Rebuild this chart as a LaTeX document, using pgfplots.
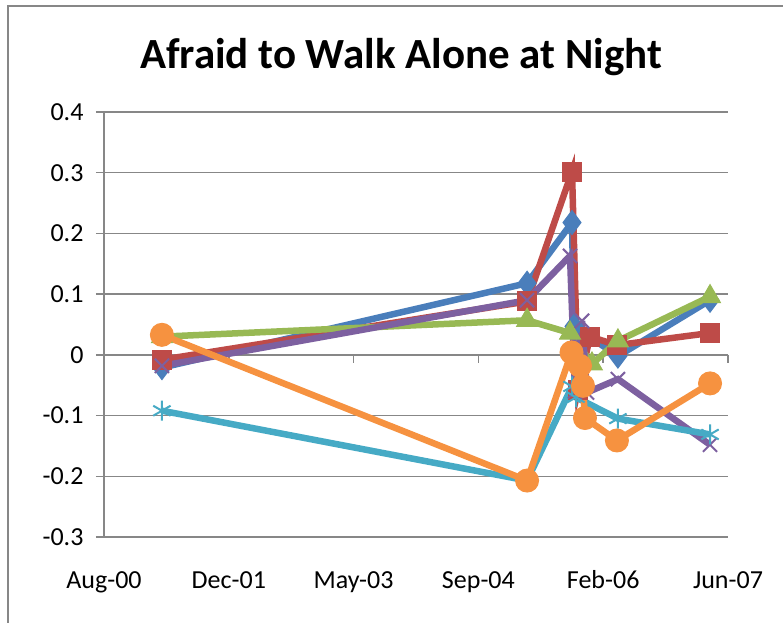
\documentclass[border=0pt]{standalone}
\usepackage{pgfplots}
\pgfplotsset{compat=1.18}
\usepackage{fontspec}
\setmainfont{Carlito}
\definecolor{sblue}{HTML}{4A7EBB}
\definecolor{sred}{HTML}{BE4B48}
\definecolor{sgreen}{HTML}{98B954}
\definecolor{spurple}{HTML}{7D60A0}
\definecolor{saqua}{HTML}{46AAC5}
\definecolor{sorange}{HTML}{F69240}
\definecolor{gridgray}{HTML}{878787}
\begin{document}
\begin{tikzpicture}
\useasboundingbox (0pt,0pt) rectangle (783pt,-622pt);
\draw[gridgray, line width=2pt] (8pt,-700pt) -- (8pt,-6pt) -- (800pt,-6pt);
\node[anchor=base, font=\fontsize{43}{50}\selectfont\bfseries] at (401pt,-68pt) {Afraid to Walk Alone at Night};
\begin{axis}[
  at={(104pt,-537pt)}, anchor=south west,
  scale only axis, width=624pt, height=425pt,
  xmin=0, xmax=2500, ymin=-0.3, ymax=0.4,
  axis x line=none,
  axis y line*=left,
  axis line style={gridgray, line width=1.5pt},
  ytick={-0.3,-0.2,-0.1,0,0.1,0.2,0.3,0.4},
  yticklabels={-0.3,-0.2,-0.1,0,0.1,0.2,0.3,0.4},
  ymajorgrids, grid style={gridgray, line width=1.5pt},
  tick align=outside, major tick length=8pt,
  tick style={gridgray, line width=1.5pt},
  yticklabel style={font=\fontsize{26}{30}\selectfont, xshift=-9pt},
  clip=false,
  every axis plot/.append style={line width=6.5pt},
]
\draw[gridgray, line width=1.5pt] (axis cs:0,0) -- (axis cs:2500,0);
\pgfplotsinvokeforeach{0,500,1000,1500,2000,2500}{
  \draw[gridgray, line width=1.5pt] (axis cs:#1,0) -- ++(0pt,-8pt);
}
\node[font=\fontsize{26}{30}\selectfont, anchor=base] at (axis cs:0,-0.3) [yshift=-51pt] {Aug-00};
\node[font=\fontsize{26}{30}\selectfont, anchor=base] at (axis cs:500,-0.3) [yshift=-51pt] {Dec-01};
\node[font=\fontsize{26}{30}\selectfont, anchor=base] at (axis cs:1000,-0.3) [yshift=-51pt] {May-03};
\node[font=\fontsize{26}{30}\selectfont, anchor=base] at (axis cs:1500,-0.3) [yshift=-51pt] {Sep-04};
\node[font=\fontsize{26}{30}\selectfont, anchor=base] at (axis cs:2000,-0.3) [yshift=-51pt] {Feb-06};
\node[font=\fontsize{26}{30}\selectfont, anchor=base] at (axis cs:2500,-0.3) [yshift=-51pt] {Jun-07};
% blue
\addplot[sblue, mark=diamond*, mark size=12pt, mark options={line width=1pt}] coordinates {
(232,-0.021) (1695,0.118) (1875,0.218) (1883,0.047) (2059,-0.002) (2428,0.090)};
% red
\addplot[sred, mark=square*, mark size=9.5pt, mark options={line width=1pt}] coordinates {
(232,-0.008) (1695,0.088) (1875,0.302) (1899,-0.058) (1947,0.030) (2055,0.016) (2428,0.036)};
% green
\addplot[sgreen, mark=triangle*, mark size=12pt, mark options={line width=1pt}] coordinates {
(232,0.030) (1695,0.057) (1867,0.036) (1955,-0.015) (2059,0.023) (2428,0.096)};
% purple
\addplot[spurple, mark=x, mark size=10pt, mark options={line width=2pt}] coordinates {
(232,-0.018) (1695,0.090) (1867,0.163) (1887,-0.060) (1915,0.056) (1935,-0.062) (2059,-0.040) (2428,-0.148)};
% aqua
\addplot[saqua, mark=asterisk, mark size=10pt, mark options={line width=2pt}] coordinates {
(232,-0.092) (1695,-0.207) (1875,-0.052) (1891,-0.070) (2059,-0.105) (2428,-0.131)};
% orange
\addplot[sorange, mark=*, mark size=11.5pt, mark options={line width=1pt}] coordinates {
(232,0.033) (1695,-0.207) (1873,0.004) (1907,-0.018) (1919,-0.051) (1927,-0.104) (2055,-0.141) (2428,-0.047)};
\end{axis}
\end{tikzpicture}
\end{document}
